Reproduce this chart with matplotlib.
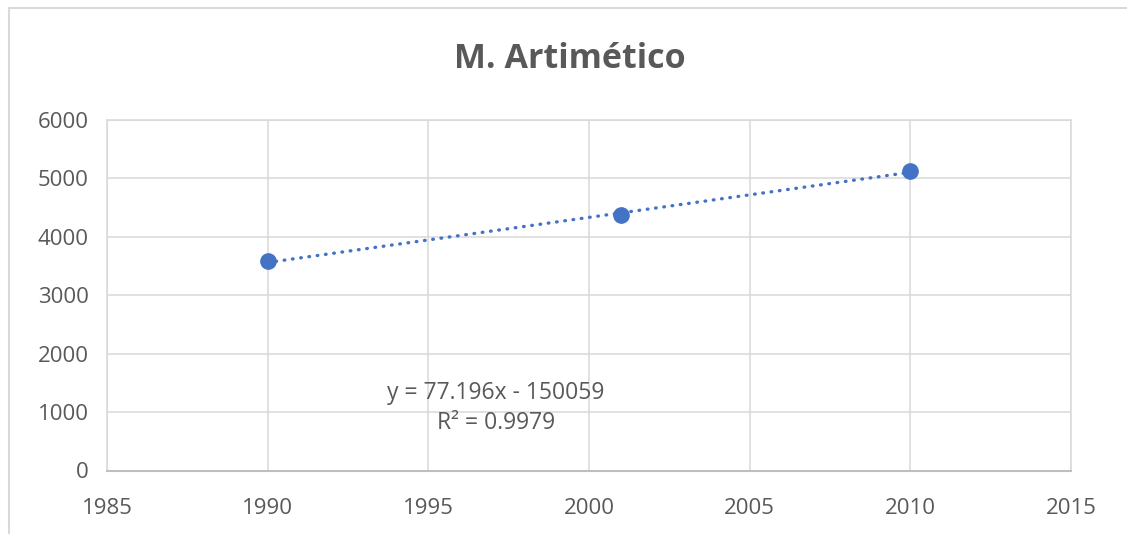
import matplotlib.pyplot as plt
from matplotlib.patches import Rectangle
import numpy as np

plt.rcParams['font.family'] = ['Open Sans', 'DejaVu Sans']

# census years and population
years = [1990, 2001, 2010]
population = [3579, 4369, 5128]

# linear trendline coefficients (Excel)
slope = 77.196
intercept = -150059
r2 = 0.9979

blue = '#4472C4'
grey_txt = '#595959'
grid_c = '#d9d9d9'

fig = plt.figure(figsize=(11.27, 5.34), dpi=100)
ax = fig.add_axes([107 / 1127, 1 - 470.5 / 534, (1071 - 107) / 1127, (470.5 - 120) / 534])

# chart area outline (only top and left edges visible)
fig.add_artist(Rectangle((8.6 / 1127, -0.1), 1.2, 1 - 8 / 534 + 0.1, transform=fig.transFigure,
                         fill=False, edgecolor=grid_c, linewidth=1.5))

tx = np.array([years[0], years[-1]])
ax.plot(tx, slope * tx + intercept, color=blue, linewidth=2.4,
        linestyle=(0, (0.2, 2.3)), dash_capstyle='round', zorder=3)
ax.plot(years, population, 'o', color=blue, markersize=11, zorder=4)

ax.set_xlim(1985, 2015)
ax.set_ylim(0, 6000)
ax.set_xticks(range(1985, 2016, 5))
ax.set_yticks(range(0, 6001, 1000))
ax.grid(True, color=grid_c, linewidth=1.1)
ax.set_axisbelow(True)
for s in ['top', 'right', 'left']:
    ax.spines[s].set_color(grid_c)
    ax.spines[s].set_linewidth(1.1)
ax.spines['bottom'].set_color('#bfbfbf')
ax.spines['bottom'].set_linewidth(1.5)
ax.tick_params(length=0, labelsize=16, colors=grey_txt)
ax.tick_params(axis='y', pad=13)
ax.tick_params(axis='x', pad=20)

fig.text(0.506, 1 - 59 / 534, 'M. Artimético', ha='center', va='center',
         fontsize=24.5, fontweight='bold', color=grey_txt)

ax.text(1997.1, 1530, f'y = {slope}x - {abs(intercept)}\nR² = {r2}', ha='center', va='top',
        fontsize=16.5, color=grey_txt, linespacing=1.3)

fig.savefig('out.png', dpi=100)
